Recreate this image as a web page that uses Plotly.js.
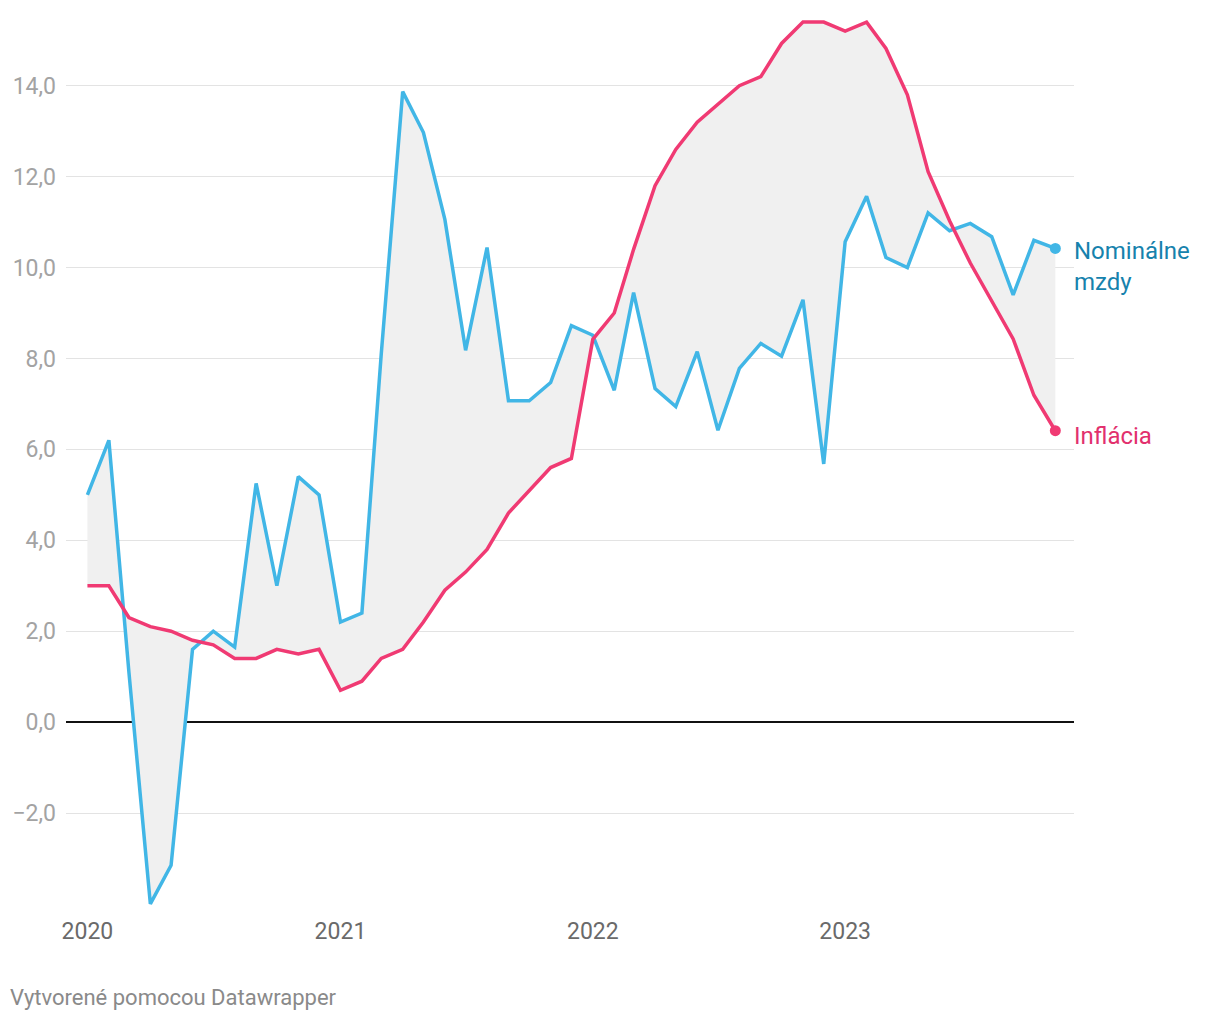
<!DOCTYPE html>
<html>
<head>
<meta charset="utf-8">
<script src="https://cdn.plot.ly/plotly-3.0.1.min.js"></script>
<style>
  html, body { margin: 0; padding: 0; background: #fff; }
  #chart { width: 1220px; height: 1020px; }
</style>
</head>
<body>
<div id="chart"></div>
<script>
// Months Jan 2020 – Nov 2023
const months = [
  '2020-01-01','2020-02-01','2020-03-01','2020-04-01','2020-05-01','2020-06-01',
  '2020-07-01','2020-08-01','2020-09-01','2020-10-01','2020-11-01','2020-12-01',
  '2021-01-01','2021-02-01','2021-03-01','2021-04-01','2021-05-01','2021-06-01',
  '2021-07-01','2021-08-01','2021-09-01','2021-10-01','2021-11-01','2021-12-01',
  '2022-01-01','2022-02-01','2022-03-01','2022-04-01','2022-05-01','2022-06-01',
  '2022-07-01','2022-08-01','2022-09-01','2022-10-01','2022-11-01','2022-12-01',
  '2023-01-01','2023-02-01','2023-03-01','2023-04-01','2023-05-01','2023-06-01',
  '2023-07-01','2023-08-01','2023-09-01','2023-10-01','2023-11-01'
];

// Nominálne mzdy (nominal wages, % y/y)
const wages = [
  5.0, 6.2, 1.1, -4.0, -3.15, 1.6, 2.0, 1.65, 5.25, 3.0, 5.4, 5.0,
  2.2, 2.4, 8.1, 13.87, 12.97, 11.06, 8.18, 10.44, 7.07, 7.07, 7.47, 8.72,
  8.51, 7.3, 9.45, 7.34, 6.94, 8.15, 6.42, 7.78, 8.33, 8.05, 9.29, 5.68,
  10.57, 11.57, 10.22, 10.0, 11.2, 10.81, 10.97, 10.68, 9.4, 10.6, 10.42
];

// Inflácia (inflation, % y/y)
const inflation = [
  3.0, 3.0, 2.3, 2.1, 2.0, 1.8, 1.7, 1.4, 1.4, 1.6, 1.5, 1.6,
  0.7, 0.9, 1.4, 1.6, 2.2, 2.9, 3.3, 3.8, 4.6, 5.1, 5.6, 5.8,
  8.42, 9.0, 10.4, 11.8, 12.6, 13.2, 13.6, 14.0, 14.2, 14.93, 15.4, 15.4,
  15.2, 15.4, 14.82, 13.8, 12.11, 11.03, 10.1, 9.27, 8.43, 7.19, 6.41
];

const yTickVals = [-2, 0, 2, 4, 6, 8, 10, 12, 14];
const yTickText = ['\u22122,0', '0,0', '2,0', '4,0', '6,0', '8,0', '10,0', '12,0', '14,0'];
const xTickVals = ['2020-01-01', '2021-01-01', '2022-01-01', '2023-01-01'];
const xTickText = ['2020', '2021', '2022', '2023'];

const seriesNames = ['Nominálne mzdy', 'Inflácia'];
const blue = '#41b6e6';
const red = '#f03a73';
const n = months.length - 1;

const traces = [
  // fill between the two series
  { x: months, y: wages, type: 'scatter', mode: 'lines', line: { width: 0, color: 'rgba(0,0,0,0)' },
    hoverinfo: 'skip', showlegend: false },
  { x: months, y: inflation, type: 'scatter', mode: 'lines', line: { width: 0, color: 'rgba(0,0,0,0)' },
    fill: 'tonexty', fillcolor: '#f0f0f0', hoverinfo: 'skip', showlegend: false },
  // lines
  { x: months, y: wages, type: 'scatter', mode: 'lines', name: seriesNames[0],
    line: { width: 3.5, color: blue }, showlegend: false },
  { x: months, y: inflation, type: 'scatter', mode: 'lines', name: seriesNames[1],
    line: { width: 3.5, color: red }, showlegend: false },
  // end dots
  { x: [months[n]], y: [wages[n]], type: 'scatter', mode: 'markers',
    marker: { size: 11, color: blue }, showlegend: false, hoverinfo: 'skip' },
  { x: [months[n]], y: [inflation[n]], type: 'scatter', mode: 'markers',
    marker: { size: 11, color: red }, showlegend: false, hoverinfo: 'skip' }
];

const layout = {
  width: 1220,
  height: 1020,
  margin: { l: 66, r: 146, t: 13, b: 107 },
  paper_bgcolor: '#ffffff',
  plot_bgcolor: '#ffffff',
  font: { family: 'Roboto, sans-serif', color: '#666' },
  showlegend: false,
  xaxis: {
    type: 'date',
    range: ['2019-12-01', '2023-11-28'],
    tickvals: xTickVals,
    ticktext: xTickText,
    showgrid: false,
    zeroline: false,
    showline: false,
    ticks: '',
    ticklabelstandoff: 2,
    tickfont: { family: 'Roboto, sans-serif', size: 23, color: '#6a6a6a' }
  },
  yaxis: {
    range: [-4.2, 15.6],
    tickvals: yTickVals,
    ticktext: yTickText,
    showgrid: true,
    gridcolor: '#e3e3e3',
    gridwidth: 1,
    zeroline: true,
    zerolinecolor: '#111111',
    zerolinewidth: 1.5,
    showline: false,
    ticks: '',
    ticklabelstandoff: 9,
    tickfont: { family: 'Roboto, sans-serif', size: 23, color: '#a3a3a3' }
  },
  annotations: [
    { x: months[n], y: wages[n], xref: 'x', yref: 'y', text: 'Nominálne<br>mzdy',
      xanchor: 'left', yanchor: 'top', xshift: 17, yshift: 13, align: 'left', showarrow: false,
      font: { family: 'Roboto, sans-serif', size: 24, color: '#1682ad' } },
    { x: months[n], y: inflation[n], xref: 'x', yref: 'y', text: 'Inflácia',
      xanchor: 'left', yanchor: 'middle', xshift: 17, yshift: -5, align: 'left', showarrow: false,
      font: { family: 'Roboto, sans-serif', size: 24, color: '#e2306d' } },
    { x: 0, y: 0, xref: 'paper', yref: 'paper', text: 'Vytvorené pomocou Datawrapper',
      xanchor: 'left', yanchor: 'middle', xshift: -58, yshift: -84, showarrow: false,
      font: { family: 'Roboto, sans-serif', size: 22, color: '#8a8a8a' } }
  ]
};

Plotly.newPlot('chart', traces, layout, { displayModeBar: false, staticPlot: true });
</script>
</body>
</html>
